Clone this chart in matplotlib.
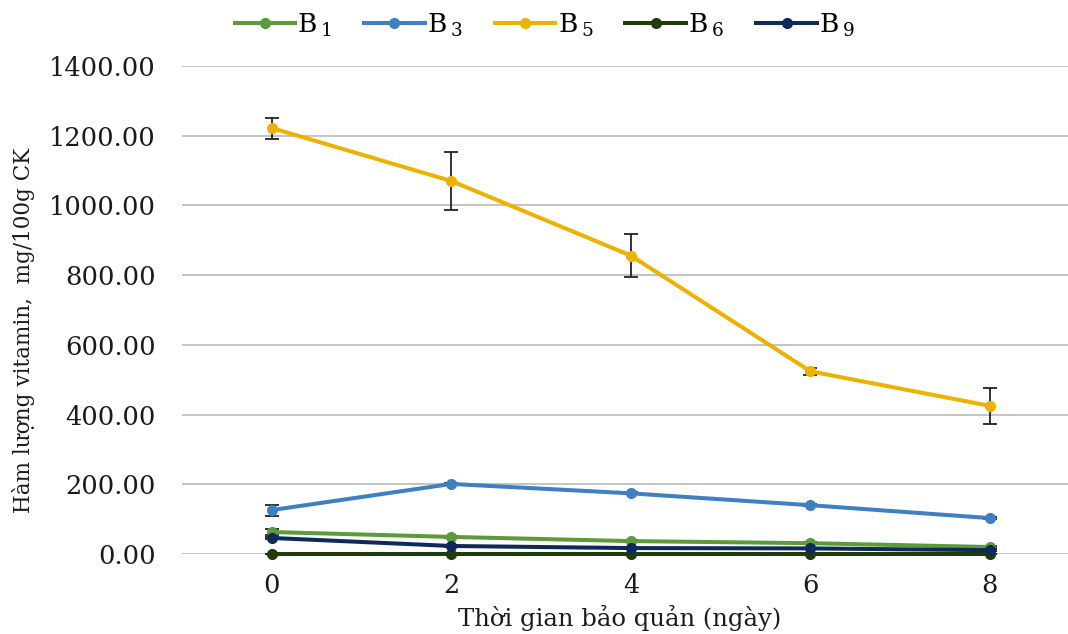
import matplotlib
matplotlib.use('Agg')
import matplotlib.pyplot as plt

# 字体设置：较宽的衬线字体
plt.rcParams['font.family'] = ['DejaVu Serif', 'Liberation Serif']
plt.rcParams['mathtext.fontset'] = 'dejavuserif'

# 数据
days = [0, 2, 4, 6, 8]
labels = [r'B$\,_1$', r'B$\,_3$', r'B$\,_5$', r'B$\,_6$', r'B$\,_9$']
b1 = [63, 49, 37, 31, 20]
b3 = [126, 201, 174, 140, 103]
b5 = [1222, 1070, 856, 524, 425]
b6 = [1, 1, 1, 1, 1]
b9 = [46, 23, 17, 16, 11]
b1_err = [9, 2, 2, 2, 2]
b3_err = [16, 3, 3, 3, 3]
b5_err = [30, 84, 62, 10, 52]
b6_err = [0, 0, 0, 0, 0]
b9_err = [2, 2, 2, 2, 2]
yticks = [0, 200, 400, 600, 800, 1000, 1200, 1400]

series = [b1, b3, b5, b6, b9]
errors = [b1_err, b3_err, b5_err, b6_err, b9_err]
colors = ['#5b9b3a', '#3f80c2', '#edb100', '#1e3c0c', '#0f2a5a']
order = [2, 1, 0, 4, 3]  # 绘制顺序

fig = plt.figure(figsize=(10.68, 6.34), dpi=100)
ax = fig.add_axes([182 / 1068, 80 / 634, 886 / 1068, 488 / 634])

handles = {}
for i in order:
    h = ax.errorbar(days, series[i], yerr=errors[i], color=colors[i],
                    linewidth=2.9, marker='o', markersize=7,
                    ecolor='#222222', elinewidth=1.3, capsize=5, capthick=1.3,
                    clip_on=False, zorder=3 + i)
    for art in h.lines[2]:
        art.set_zorder(2)
    handles[i] = h.lines[0]

ax.set_xlim(-1, 8 + 78 / 89.75)
ax.set_ylim(0, 1400)
ax.set_xticks(days)
ax.set_yticks(yticks)
ax.set_yticklabels([f'{v:.2f}' for v in yticks])
ax.yaxis.grid(True, color='#c4c4c4', linewidth=1.4)
ax.set_axisbelow(True)
for s in ax.spines.values():
    s.set_visible(False)
ax.tick_params(axis='both', length=0, labelsize=18.5, colors='#1a1a1a')
ax.tick_params(axis='y', pad=19)
ax.tick_params(axis='x', pad=14)

fig.text(620 / 1068, 1 - 618 / 634, 'Thời gian bảo quản (ngày)',
         ha='center', va='center', fontsize=17.5, color='#1a1a1a')
fig.text(24 / 1068, 1 - 330 / 634, 'Hàm lượng vitamin,  mg/100g CK',
         ha='center', va='center', rotation=90, fontsize=15.5, color='#1a1a1a')

fig.legend([handles[i] for i in range(5)], labels, loc='center', ncol=5,
           bbox_to_anchor=(545 / 1068, 1 - 25 / 634), frameon=False,
           fontsize=19, handlelength=2.3, handletextpad=0.08,
           columnspacing=1.2)

fig.savefig('out.png', dpi=100)
